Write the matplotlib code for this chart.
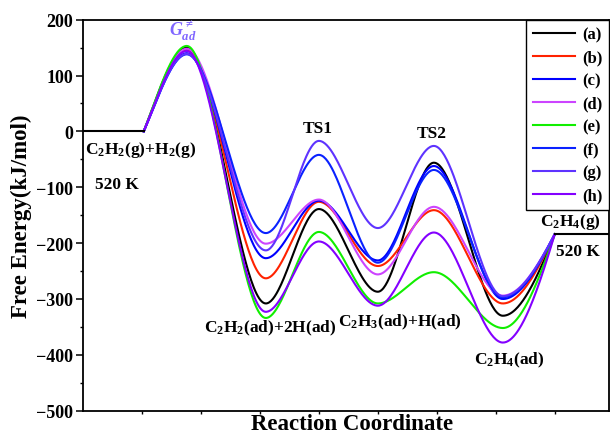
import numpy as np
import matplotlib
matplotlib.use("Agg")
import matplotlib.pyplot as plt

# Stationary points along the reaction coordinate
stage_x = [1.03, 1.76, 3.1, 4.0, 5.0, 5.95, 7.12, 8.0]

# Free energies (kJ/mol) at each stage for every case
series_labels = ["(a)", "(b)", "(c)", "(d)", "(e)", "(f)", "(g)", "(h)"]
energy_a = [0, 150, -308, -139, -287, -56, -330, -184]
energy_b = [0, 146, -263, -126, -241, -141, -308, -184]
energy_c = [0, 140, -227, -124, -231, -62, -300, -184]
energy_d = [0, 148, -201, -122, -256, -135, -294, -184]
energy_e = [0, 153, -334, -180, -308, -252, -352, -184]
energy_f = [0, 138, -182, -42, -235, -69, -297, -184]
energy_g = [0, 139, -213, -17, -173, -26, -295, -184]
energy_h = [0, 144, -323, -197, -312, -181, -378, -184]
series_colors = ["#000000", "#FF2200", "#0000FF", "#CC44FF",
                 "#11EE00", "#0A22FF", "#5E33FF", "#8400FF"]

gas_start = 0
gas_end = -184

plt.rcParams["font.family"] = ["Liberation Serif", "DejaVu Serif"]
plt.rcParams["font.weight"] = "bold"
plt.rcParams["mathtext.fontset"] = "custom"
plt.rcParams["mathtext.rm"] = "Liberation Serif:bold"
plt.rcParams["mathtext.it"] = "Liberation Serif:italic"
plt.rcParams["mathtext.bf"] = "Liberation Serif:bold"


def smooth_path(xs, ys, n=60):
    # cubic hermite through the stationary points, flat at the extrema
    xs = np.asarray(xs, float)
    ys = np.asarray(ys, float)
    slopes = np.zeros(len(xs))
    slopes[0] = 1.3 * (ys[1] - ys[0]) / (xs[1] - xs[0])
    slopes[-1] = 1.6 * (ys[-1] - ys[-2]) / (xs[-1] - xs[-2])
    px, py = [], []
    for i in range(len(xs) - 1):
        h = xs[i + 1] - xs[i]
        t = np.linspace(0, 1, n)
        h00 = 2 * t**3 - 3 * t**2 + 1
        h10 = t**3 - 2 * t**2 + t
        h01 = -2 * t**3 + 3 * t**2
        h11 = t**3 - t**2
        px.append(xs[i] + t * h)
        py.append(h00 * ys[i] + h10 * h * slopes[i] + h01 * ys[i + 1] + h11 * h * slopes[i + 1])
    return np.concatenate(px), np.concatenate(py)


fig = plt.figure(figsize=(6.1, 4.35), dpi=100)
ax = fig.add_axes([83 / 610, 1 - 411.7 / 435, 526 / 610, 391 / 435])

all_series = [energy_a, energy_b, energy_c, energy_d,
              energy_e, energy_f, energy_g, energy_h]
for label, vals, col in zip(series_labels, all_series, series_colors):
    x, y = smooth_path(stage_x, vals)
    ax.plot(x, y, color=col, lw=1.5, label=label)

# gas phase levels
ax.plot([0, stage_x[0]], [gas_start, gas_start], color="black", lw=1.5)
ax.plot([stage_x[-1], 9], [gas_end, gas_end], color="black", lw=1.5)

ax.set_xlim(0, 8.92)
ax.set_ylim(-500, 200)
ax.set_yticks(np.arange(-500, 201, 100))
ax.set_yticks(np.arange(-450, 200, 100), minor=True)
ax.set_xticks(np.arange(1, 9))
ax.set_xticklabels([])
ax.tick_params(axis="y", which="major", length=5, width=1.1, labelsize=13, pad=2)
ax.tick_params(axis="y", which="minor", length=2.5, width=1)
ax.tick_params(axis="x", length=2.5, width=1)
for s in ax.spines.values():
    s.set_linewidth(1.3)

ax.set_ylabel("Free Energy(kJ/mol)", fontsize=16.5, fontweight="bold", labelpad=3)
fig.text(352 / 610, 1 - 425 / 435, "Reaction Coordinate", fontsize=16.5, fontweight="bold",
         ha="center", va="center")

txt = dict(fontsize=12.5, fontweight="bold", ha="center", va="center")
ax.text(0.03, -32, "C$_2$H$_2$(g)+H$_2$(g)", ha="left", va="center", fontsize=12.5, fontweight="bold")
ax.text(0.58, -95, "520 K", **txt)
ax.text(1.7, 180, r"$G_{ad}^{\neq}$", fontsize=13, color="#8066FF", ha="center", va="center")
ax.text(3.98, 7, "TS1", **txt)
ax.text(5.92, -2, "TS2", **txt)
ax.text(3.17, -351, "C$_2$H$_2$(ad)+2H(ad)", **txt)
ax.text(5.37, -340, "C$_2$H$_3$(ad)+H(ad)", **txt)
ax.text(7.22, -408, "C$_2$H$_4$(ad)", **txt)
ax.text(8.27, -161, "C$_2$H$_4$(g)", **txt)
ax.text(8.39, -214, "520 K", **txt)

leg = ax.legend(loc="upper right", borderaxespad=0, fontsize=12, handlelength=2.55,
                labelspacing=0.42, fancybox=False, edgecolor="black", framealpha=1,
                borderpad=0.4, handletextpad=0.4)
leg.get_frame().set_linewidth(1.0)

fig.savefig("out.png", dpi=100)
